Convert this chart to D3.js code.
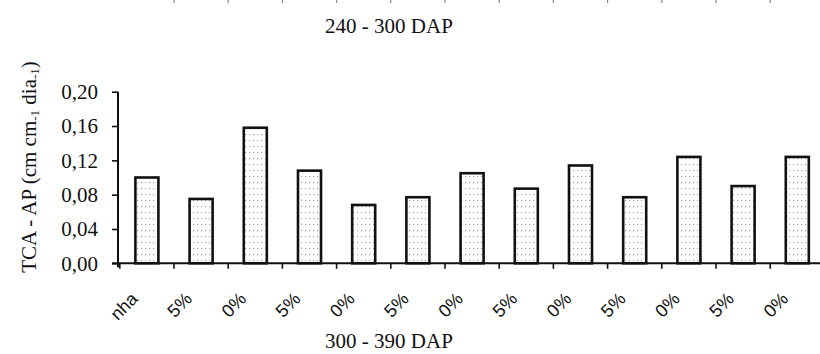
<!DOCTYPE html>
<html>
<head>
<meta charset="utf-8">
<script src="https://cdn.jsdelivr.net/npm/d3@7/dist/d3.min.js"></script>
<style>
  html, body { margin: 0; padding: 0; background: #fff; }
  svg { display: block; }
  .serif { font-family: "Liberation Serif", "DejaVu Serif", "Noto Serif", serif; }
  .sans { font-family: "Liberation Sans", Arimo, Arial, sans-serif; }
</style>
</head>
<body>
<div id="chart"></div>
<script>
// Growth rate per treatment, period 300 - 390 DAP
const categories = ["nha", "5%", "0%", "5%", "0%", "5%", "0%", "5%", "0%", "5%", "0%", "5%", "0%"];
const values = [0.100, 0.075, 0.158, 0.108, 0.068, 0.077, 0.105, 0.087, 0.114, 0.077, 0.124, 0.090, 0.124];
const yTicks = [0.00, 0.04, 0.08, 0.12, 0.16, 0.20];
const topTitle = "240 - 300 DAP";
const bottomTitle = "300 - 390 DAP";

const W = 820, H = 354;

const svg = d3.select("#chart").append("svg")
  .attr("width", W).attr("height", H);

// dotted fill used inside every bar
const defs = svg.append("defs");
const pat = defs.append("pattern")
  .attr("id", "dots").attr("patternUnits", "userSpaceOnUse")
  .attr("width", 4).attr("height", 6);
pat.append("rect").attr("width", 4).attr("height", 6).attr("fill", "#fff");
pat.append("rect").attr("x", 1).attr("y", 2).attr("width", 1.2).attr("height", 1.2).attr("fill", "#a8a8a8");

const idx = categories.map((d, i) => i);
const x = d3.scaleBand()
  .domain(idx)
  .range([119.8, 824.4])
  .paddingInner(0.575)
  .paddingOuter(0.2875);

const y = d3.scaleLinear().domain([0, 0.20]).range([263.3, 91.7]);

const step = x.step();
const x0 = x.range()[0];
const boundaries = d3.range(0, categories.length + 1).map(i => x0 + i * step);

// remnants of the panel above: short marks along the top edge
svg.append("g").selectAll("line")
  .data(boundaries.slice(1, 13))
  .join("line")
  .attr("x1", d => d).attr("x2", d => d)
  .attr("y1", 0).attr("y2", 3)
  .attr("stroke", "#888").attr("stroke-width", 1.2);

// period titles
svg.append("text")
  .attr("class", "serif")
  .attr("x", 389).attr("y", 33)
  .attr("text-anchor", "middle")
  .attr("font-size", 21)
  .attr("fill", "#111")
  .text(topTitle);

svg.append("text")
  .attr("class", "serif")
  .attr("x", 389).attr("y", 348)
  .attr("text-anchor", "middle")
  .attr("font-size", 21)
  .attr("fill", "#111")
  .text(bottomTitle);

// y axis title with subscripts
const yt = svg.append("text")
  .attr("class", "serif")
  .attr("transform", "translate(36,167) rotate(-90)")
  .attr("text-anchor", "middle")
  .attr("font-size", 21)
  .attr("fill", "#111");
yt.append("tspan").text("TCA - AP (cm cm");
yt.append("tspan").attr("font-size", 13).attr("dy", 3).text("-1");
yt.append("tspan").attr("dy", -3).text(" dia");
yt.append("tspan").attr("font-size", 13).attr("dy", 3).text("-1");
yt.append("tspan").attr("dy", -3).text(")");

// bars
svg.append("g").selectAll("rect")
  .data(values)
  .join("rect")
  .attr("x", (d, i) => x(i))
  .attr("y", d => y(d))
  .attr("width", x.bandwidth())
  .attr("height", d => y(0) - y(d))
  .attr("fill", "url(#dots)")
  .attr("stroke", "#111")
  .attr("stroke-width", 2.6);

// y axis
const yAxis = d3.axisLeft(y)
  .tickValues(yTicks)
  .tickSize(6)
  .tickPadding(14)
  .tickFormat(d => d3.format(".2f")(d).replace(".", ","));

const gy = svg.append("g")
  .attr("transform", "translate(118,0)")
  .call(yAxis)
  .attr("font-family", null);
gy.select(".domain").attr("stroke", "#111").attr("stroke-width", 2)
  .attr("d", `M0,${y(0.20)}V${y(0) + 4}`);
gy.selectAll(".tick line").attr("stroke", "#111").attr("stroke-width", 1.6);
gy.selectAll(".tick text")
  .attr("class", "serif")
  .attr("font-size", 21).attr("fill", "#111");

// x axis: line with ticks on the category boundaries
const gx = svg.append("g");
gx.append("line")
  .attr("x1", 112).attr("x2", W)
  .attr("y1", y(0)).attr("y2", y(0))
  .attr("stroke", "#111").attr("stroke-width", 2);
gx.selectAll("line.tk")
  .data(boundaries)
  .join("line").attr("class", "tk")
  .attr("x1", d => d).attr("x2", d => d)
  .attr("y1", y(0)).attr("y2", y(0) + 5.5)
  .attr("stroke", "#111").attr("stroke-width", 1.6);

// rotated category labels
gx.selectAll("text")
  .data(categories)
  .join("text")
  .attr("class", "sans")
  .attr("transform", (d, i) => `translate(${x(i) + x.bandwidth() / 2 - 8},300) rotate(-45)`)
  .attr("text-anchor", "end")
  .attr("font-size", 18)
  .attr("fill", "#111")
  .text(d => d);
</script>
</body>
</html>
